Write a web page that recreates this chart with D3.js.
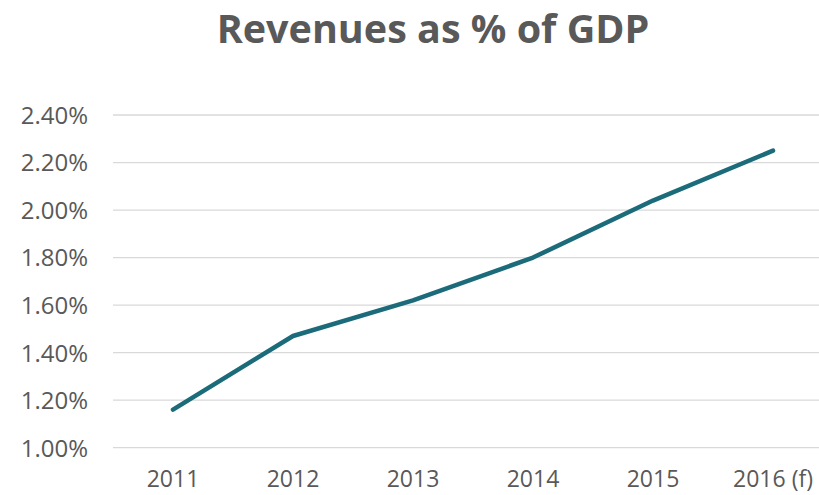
<!DOCTYPE html>
<html>
<head>
<meta charset="utf-8">
<script src="https://cdn.jsdelivr.net/npm/d3@7"></script>
<style>
  html, body { margin: 0; padding: 0; background: #fff; }
  svg { display: block; }
</style>
</head>
<body>
<svg id="chart" width="819" height="495"></svg>
<script>
const categories = ["2011", "2012", "2013", "2014", "2015", "2016 (f)"];
const revenuesPct = [1.16, 1.47, 1.62, 1.80, 2.04, 2.25];
const yTicks = [1.00, 1.20, 1.40, 1.60, 1.80, 2.00, 2.20, 2.40];
const titleText = "Revenues as % of GDP";

const svg = d3.select("#chart");
const textColor = "#595959";
const fontFamily = "'Open Sans', sans-serif";

const x = d3.scaleBand().domain(categories).range([113, 833]);
const y = d3.scaleLinear().domain([1.0, 2.4]).range([447.7, 115]);

// Title
svg.append("text")
  .attr("x", 433).attr("y", 43)
  .attr("text-anchor", "middle")
  .attr("font-family", fontFamily)
  .attr("font-weight", "bold")
  .attr("font-size", 39.5)
  .attr("fill", textColor)
  .text(titleText);

// Gridlines
svg.append("g").selectAll("line").data(yTicks).join("line")
  .attr("x1", 113).attr("x2", 833)
  .attr("y1", d => y(d)).attr("y2", d => y(d))
  .attr("stroke", "#d9d9d9").attr("stroke-width", 1.3);

// Y axis
const yAxis = d3.axisLeft(y).tickValues(yTicks)
  .tickFormat(d => d.toFixed(2) + "%").tickSize(0).tickPadding(0);
const gy = svg.append("g").attr("transform", "translate(88,0)").call(yAxis);
gy.select(".domain").remove();
gy.selectAll("text")
  .attr("font-family", fontFamily).attr("font-size", 24)
  .attr("fill", textColor).attr("dy", "0.35em");

// X axis
const xAxis = d3.axisBottom(x).tickSize(0).tickPadding(0);
const gx = svg.append("g").attr("transform", "translate(0,470)").call(xAxis);
gx.select(".domain").remove();
gx.selectAll("text")
  .attr("font-family", fontFamily).attr("font-size", 23)
  .attr("fill", textColor).attr("dy", "0.75em");

// Line
const line = d3.line()
  .x((d, i) => x(categories[i]) + x.bandwidth() / 2)
  .y(d => y(d));
svg.append("path")
  .datum(revenuesPct)
  .attr("d", line)
  .attr("fill", "none")
  .attr("stroke", "#1b6b7a")
  .attr("stroke-width", 4.5)
  .attr("stroke-linecap", "round")
  .attr("stroke-linejoin", "round");
</script>
</body>
</html>
